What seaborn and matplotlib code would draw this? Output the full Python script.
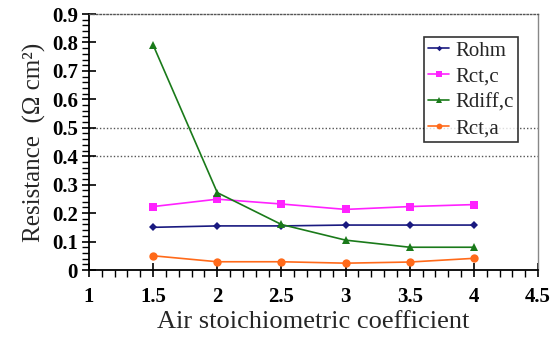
import numpy as np
import pandas as pd
import seaborn as sns
import matplotlib.pyplot as plt
from matplotlib.ticker import MultipleLocator

# Resistance components vs. air stoichiometric coefficient
stoich = [1.5, 2.0, 2.5, 3.0, 3.5, 4.0]
rohm = [0.150, 0.155, 0.155, 0.158, 0.158, 0.158]
rct_c = [0.223, 0.249, 0.232, 0.213, 0.223, 0.230]
rdiff_c = [0.791, 0.272, 0.160, 0.105, 0.080, 0.080]
rct_a = [0.050, 0.029, 0.029, 0.024, 0.028, 0.041]

series_names = ["Rohm", "Rct,c", "Rdiff,c", "Rct,a"]
series_values = [rohm, rct_c, rdiff_c, rct_a]
colors = ["#1a1a80", "#ff22ff", "#1a7a1a", "#ff6a1a"]
markers = ["D", "s", "^", "o"]
msizes = [4, 6, 6, 6]

df = pd.DataFrame(
    [(x, y, n) for n, vals in zip(series_names, series_values) for x, y in zip(stoich, vals)],
    columns=["stoich", "R", "series"],
)

sns.set_style("white")
plt.rcParams["font.family"] = ["Liberation Serif", "DejaVu Serif"]

fig = plt.figure(figsize=(5.59, 3.39), dpi=100)
ax = fig.add_axes([89 / 559, 1 - 270 / 339, (538 - 89) / 559, (270 - 14) / 339])

for name, c, m, ms in zip(series_names, colors, markers, msizes):
    sub = df[df["series"] == name]
    sns.lineplot(data=sub, x="stoich", y="R", ax=ax, color=c, marker=m,
                 markersize=ms, markeredgewidth=0, linewidth=1.2, label=name)

# dotted reference lines
for yv in [0.4, 0.5]:
    ax.axhline(yv, color="#555555", linestyle=(0, (1, 1.5)), linewidth=1.0, zorder=0)

ax.set_xlim(1, 4.5)
ax.set_ylim(0, 0.9)
ax.xaxis.set_minor_locator(MultipleLocator(0.1))
ax.yaxis.set_minor_locator(MultipleLocator(0.02))
ax.set_xticks([1, 1.5, 2, 2.5, 3, 3.5, 4, 4.5])
ax.set_xticklabels(["1", "1.5", "2", "2.5", "3", "3.5", "4", "4.5"])
ax.set_yticks(np.round(np.arange(0, 0.91, 0.1), 1))
ax.set_yticklabels(["0"] + [f"{v:.1f}" for v in np.arange(0.1, 0.91, 0.1)])

ax.tick_params(axis="both", which="both", bottom=True, left=True, top=False, right=False)
ax.tick_params(axis="both", which="major", direction="inout", length=10, width=1.2,
               labelsize=15, colors="black")
ax.tick_params(axis="both", which="minor", direction="out", length=5, width=1.0,
               colors="black")
ax.tick_params(axis="x", which="major", pad=7)
ax.tick_params(axis="y", which="major", pad=3)
for lab in ax.get_xticklabels() + ax.get_yticklabels():
    lab.set_fontweight("bold")

ax.spines["left"].set_color("black")
ax.spines["left"].set_linewidth(1.3)
ax.spines["bottom"].set_color("black")
ax.spines["bottom"].set_linewidth(1.3)
ax.spines["right"].set_color("#888888")
ax.spines["right"].set_linewidth(1.0)
ax.spines["top"].set_color("#555555")
ax.spines["top"].set_linestyle((0, (1, 1.5)))
ax.spines["top"].set_linewidth(1.0)

ax.set_xlabel("Air stoichiometric coefficient", fontsize=19, labelpad=3)
ax.set_ylabel("Resistance  (Ω cm²)", fontsize=18, labelpad=4)

leg = ax.legend(loc="upper right", bbox_to_anchor=(0.955, 0.91), fontsize=15,
                frameon=True, fancybox=False, edgecolor="black", handlelength=1.0,
                handletextpad=0.3, borderpad=0.2, labelspacing=0.3, borderaxespad=0,
                markerscale=0.7)
leg.get_frame().set_linewidth(1.2)

fig.savefig("out.png", dpi=100)
